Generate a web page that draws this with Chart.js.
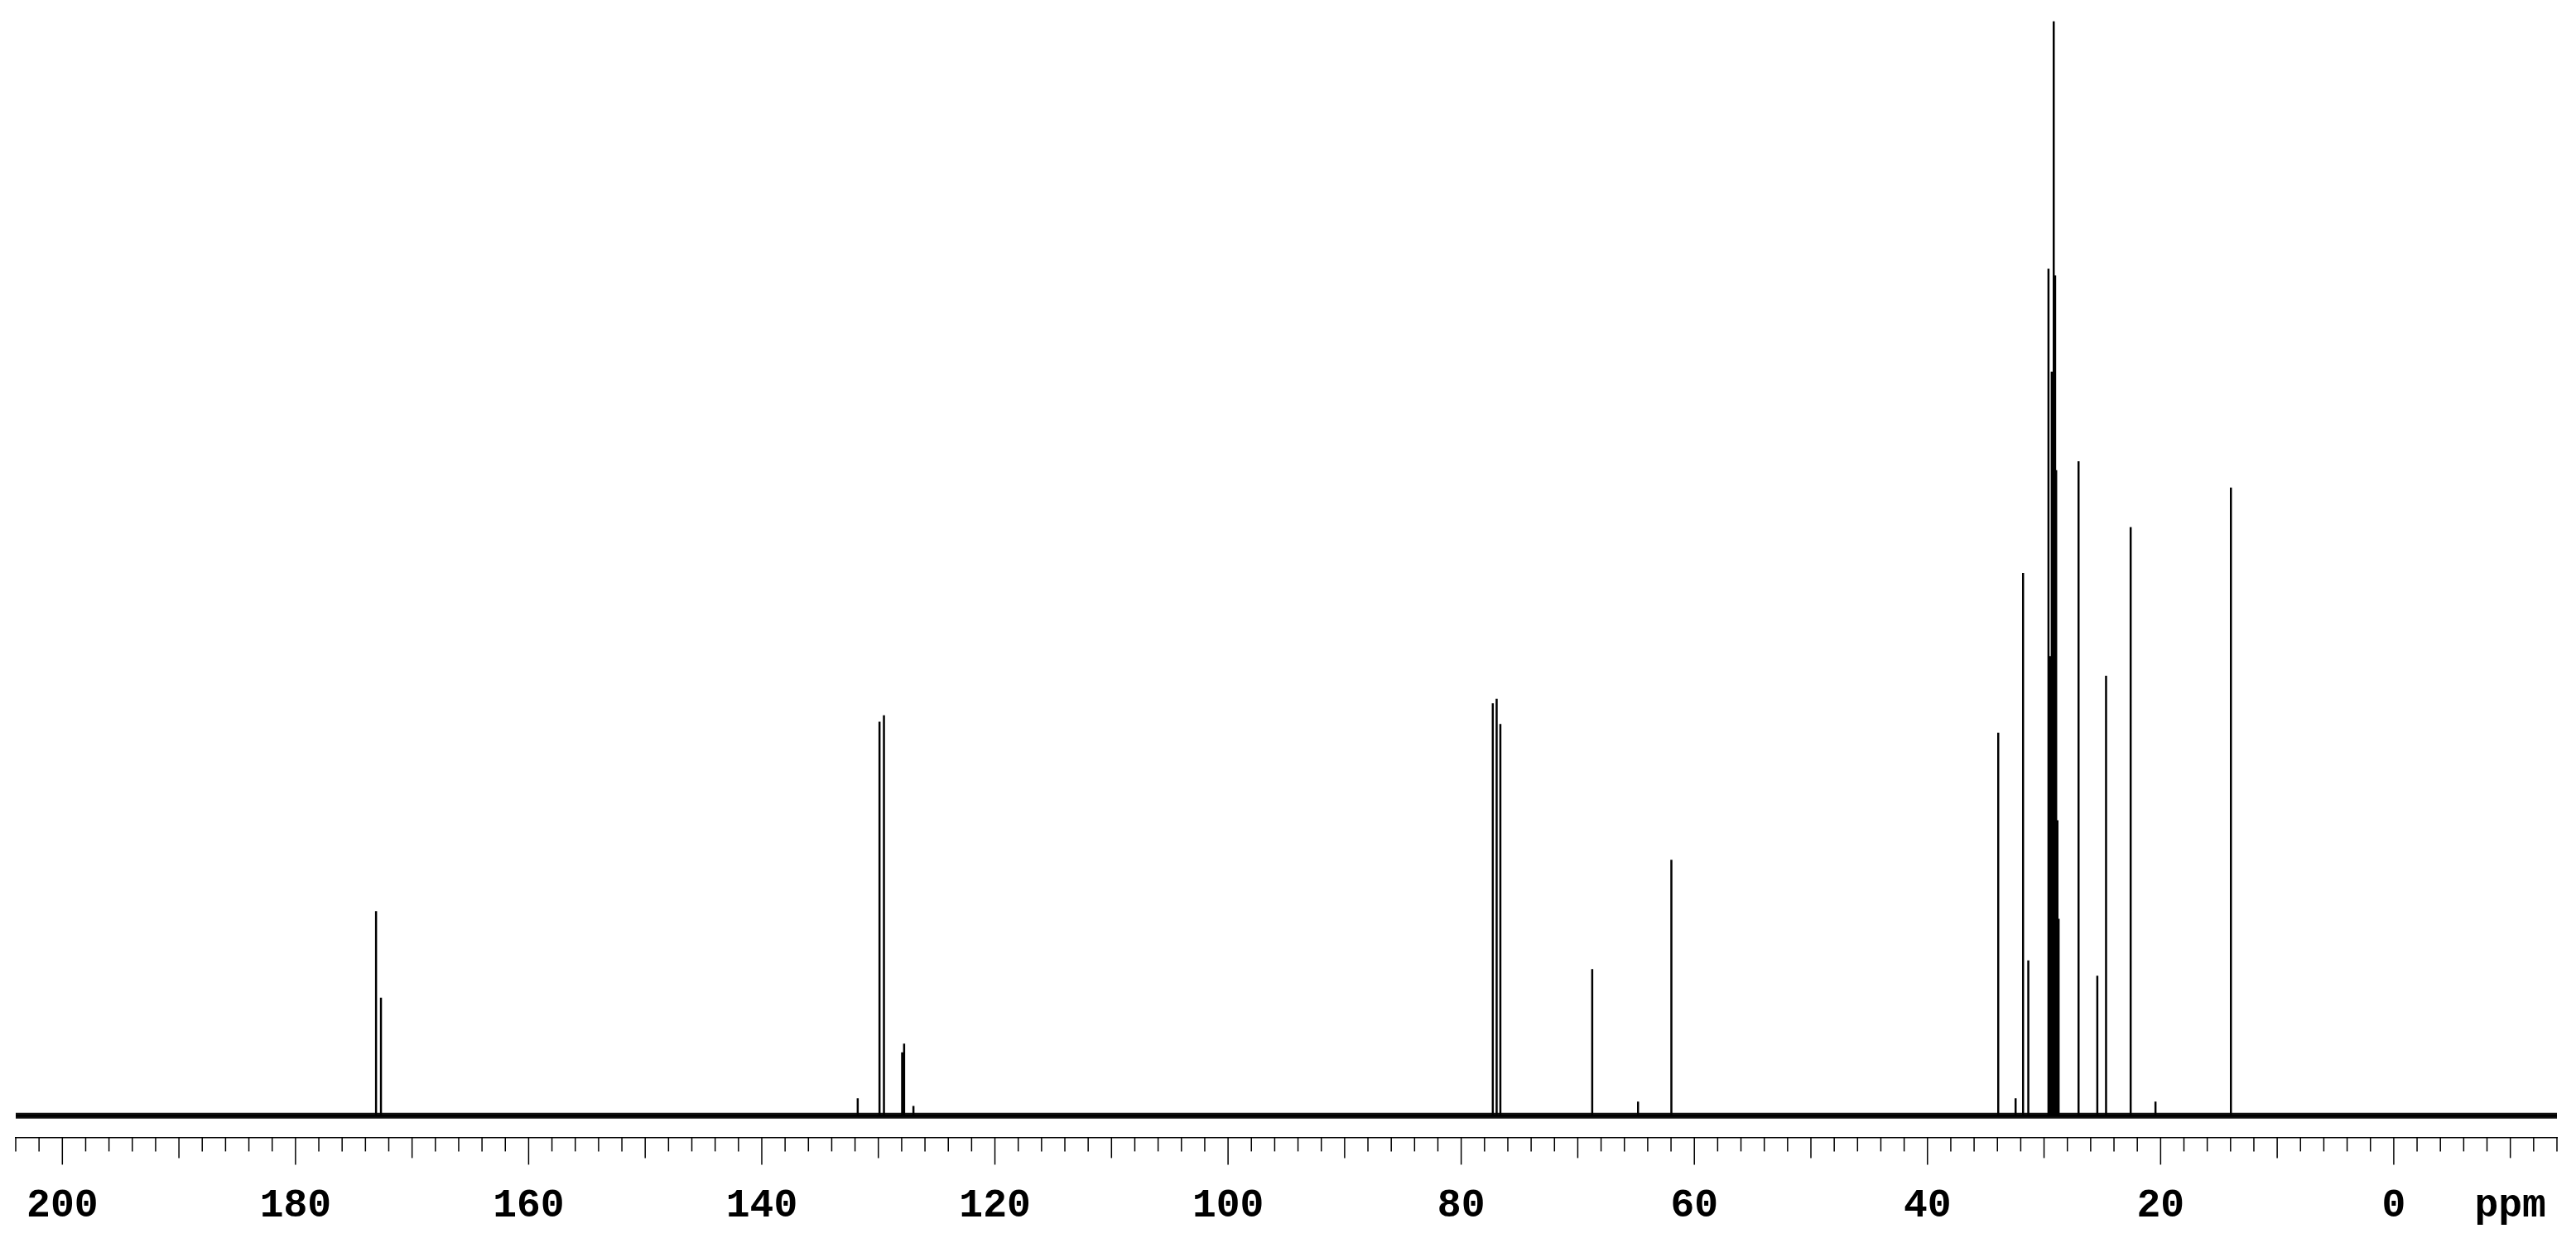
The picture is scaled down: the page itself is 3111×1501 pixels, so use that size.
<!DOCTYPE html>
<html>
<head>
<meta charset="utf-8">
<title>13C NMR</title>
<script src="https://cdn.jsdelivr.net/npm/chart.js@4.4.1/dist/chart.umd.min.js"></script>
<style>
    html, body { margin: 0; padding: 0; background: #fff; overflow: hidden; }
    #nmrChart { display: block; }
</style>
</head>
<body>
<canvas id="nmrChart" width="3111" height="1501"></canvas>
<script>
/*---------------------------------------------------
  Spectrum data (peak list)
---------------------------------------------------*/
var ppmRange = [-14, 204]; // axis limits, drawn reversed

var peakShift = [173.09, 172.67, 131.77, 129.90, 129.52, 127.96, 127.79, 126.99,
    77.29, 76.96, 76.64, 68.76, 64.83, 61.97,
    33.93, 32.44, 31.80, 31.35,
    29.62, 29.46, 29.34, 29.24, 29.17, 29.05, 28.96, 28.85, 28.75,
    27.04, 25.43, 24.68, 22.57, 20.44, 13.97];

var peakHeight = [18.7, 10.8, 1.6, 36.0, 36.6, 5.8, 6.6, 0.9,
    37.7, 38.1, 35.8, 13.4, 1.3, 23.4,
    35.0, 1.6, 49.6, 14.2,
    77.4, 42.0, 68.0, 49.0, 100.0, 76.8, 59.0, 27.0, 18.0,
    59.8, 12.8, 40.2, 53.8, 1.3, 57.4];

var labelTicks = [200, 180, 160, 140, 120, 100, 80, 60, 40, 20, 0];
var unitTick = -10; // "ppm" sits on this tick

(function () {

    "use strict";

    // stick spectrum: baseline -> peak top -> baseline
    var spectrum = [{ x: ppmRange[1], y: 0 }];
    var order = peakShift.map(function (p, i) { return i; })
        .sort(function (a, b) { return peakShift[b] - peakShift[a]; });
    order.forEach(function (i) {
        spectrum.push({ x: peakShift[i], y: 0 });
        spectrum.push({ x: peakShift[i], y: peakHeight[i] });
        spectrum.push({ x: peakShift[i], y: 0 });
    });
    spectrum.push({ x: ppmRange[0], y: 0 });

    var baseline = [{ x: ppmRange[1], y: 0 }, { x: ppmRange[0], y: 0 }];

    /*---------------------------------------------------
      Tick marks: 2 ppm short, 10 ppm medium, 20 ppm long
    ---------------------------------------------------*/
    var ppmTicks = {
        id: 'ppmTicks',
        afterDraw: function (chart) {
            var xs = chart.scales.x;
            var ctx = chart.ctx;
            ctx.save();
            ctx.strokeStyle = '#000';
            ctx.lineWidth = 1.5;
            xs.ticks.forEach(function (t) {
                var v = Math.round(t.value);
                var len = 17;
                if (v % 20 === 0) len = 33;
                else if (v % 10 === 0) len = 25;
                var px = xs.getPixelForValue(v);
                ctx.beginPath();
                ctx.moveTo(px, xs.top);
                ctx.lineTo(px, xs.top + len);
                ctx.stroke();
            });
            ctx.restore();
        }
    };

    var nmrChart = new Chart(document.getElementById('nmrChart'), {
        type: 'scatter',
        data: {
            datasets: [{
                label: 'spectrum',
                data: spectrum,
                showLine: true,
                borderColor: '#000',
                borderWidth: 2.5,
                pointRadius: 0,
                tension: 0
            }, {
                label: 'baseline',
                data: baseline,
                showLine: true,
                borderColor: '#111',
                borderWidth: 7,
                pointRadius: 0
            }]
        },
        options: {
            responsive: false,
            animation: false,
            events: [],
            layout: {
                autoPadding: false,
                padding: { left: 19, right: 23, top: 10, bottom: 15 }
            },
            plugins: {
                legend: { display: false },
                tooltip: { enabled: false }
            },
            scales: {
                x: {
                    type: 'linear',
                    position: 'bottom',
                    reverse: true,
                    min: ppmRange[0],
                    max: ppmRange[1],
                    grid: {
                        drawOnChartArea: false,
                        drawTicks: true,
                        tickLength: 55, // room for the labels; marks drawn by ppmTicks
                        tickColor: 'rgba(0,0,0,0)'
                    },
                    border: { display: true, color: '#000', width: 1.5 },
                    ticks: {
                        stepSize: 2,
                        maxTicksLimit: 1000,
                        autoSkip: false,
                        maxRotation: 0,
                        padding: 0,
                        color: '#000',
                        font: { family: 'Liberation Mono', size: 48, weight: 'bold' },
                        callback: function (value) {
                            var v = Math.round(value);
                            if (v === unitTick) return 'ppm';
                            return labelTicks.indexOf(v) >= 0 ? String(v) : '';
                        }
                    }
                },
                y: {
                    display: false,
                    min: -1.97,
                    max: 101.2
                }
            }
        },
        plugins: [ppmTicks]
    });

})();
</script>
</body>
</html>
